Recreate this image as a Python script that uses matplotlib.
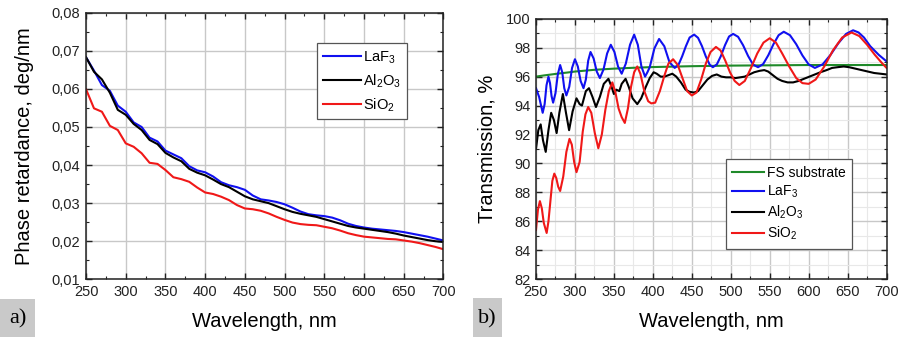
import matplotlib
matplotlib.use("Agg")
import matplotlib.pyplot as plt
from matplotlib.ticker import MultipleLocator, FuncFormatter
from matplotlib.patches import Rectangle

plt.rcParams['font.family'] = ['Liberation Sans', 'DejaVu Sans']
plt.rcParams['mathtext.default'] = 'regular'

# ---------------- Panel a) Phase retardance ----------------
wl_a = [250, 260, 270, 280, 290, 300, 310, 320, 330, 340, 350, 360, 370, 380, 390,
        400, 410, 420, 430, 440, 450, 460, 470, 480, 490, 500, 510, 520, 530, 540,
        550, 560, 570, 580, 590, 600, 610, 620, 630, 640, 650, 660, 670, 680, 690, 700]
ret_laf3 = [0.0683, 0.0648, 0.0610, 0.0595, 0.0556, 0.0540, 0.0512, 0.0500, 0.0472, 0.0462,
            0.0438, 0.0428, 0.0418, 0.0397, 0.0386, 0.0381, 0.0370, 0.0355, 0.0347, 0.0342,
            0.0335, 0.0320, 0.0310, 0.0307, 0.0303, 0.0297, 0.0288, 0.0278, 0.0271, 0.0268,
            0.0266, 0.0262, 0.0255, 0.0246, 0.0240, 0.0236, 0.0233, 0.0231, 0.0229, 0.0227,
            0.0224, 0.0220, 0.0216, 0.0212, 0.0207, 0.0202]
ret_al2o3 = [0.0683, 0.0645, 0.0625, 0.0590, 0.0545, 0.0532, 0.0508, 0.0492, 0.0466, 0.0455,
             0.0432, 0.0420, 0.0410, 0.0390, 0.0380, 0.0373, 0.0362, 0.0350, 0.0342, 0.0330,
             0.0318, 0.0310, 0.0305, 0.0300, 0.0292, 0.0284, 0.0277, 0.0272, 0.0268, 0.0264,
             0.0258, 0.0252, 0.0246, 0.0240, 0.0236, 0.0233, 0.0230, 0.0227, 0.0224, 0.0220,
             0.0215, 0.0211, 0.0207, 0.0203, 0.0200, 0.0198]
ret_sio2 = [0.0599, 0.0549, 0.0540, 0.0503, 0.0492, 0.0457, 0.0448, 0.0431, 0.0406, 0.0403,
            0.0387, 0.0368, 0.0363, 0.0356, 0.0341, 0.0328, 0.0324, 0.0317, 0.0308, 0.0295,
            0.0286, 0.0284, 0.0280, 0.0273, 0.0264, 0.0256, 0.0249, 0.0245, 0.0243, 0.0242,
            0.0238, 0.0234, 0.0228, 0.0221, 0.0216, 0.0212, 0.0210, 0.0208, 0.0206, 0.0205,
            0.0202, 0.0199, 0.0195, 0.0190, 0.0185, 0.0179]

# ---------------- Panel b) Transmission ----------------
wl_fs = [250, 260, 270, 280, 290, 300, 325, 350, 375, 400, 450, 500, 550, 600, 650, 700]
tr_fs = [96.0, 96.08, 96.15, 96.22, 96.28, 96.35, 96.47, 96.55, 96.61, 96.66, 96.72,
         96.76, 96.78, 96.8, 96.8, 96.8]

wl_laf3 = [250, 254, 258.6, 261.1, 263.5, 266, 268, 270, 272, 275, 278, 281, 283.7, 286.3,
           289, 292.7, 296.3, 300, 303.7, 307.3, 311, 314, 317, 320, 324, 328, 332, 336.7,
           341.3, 346, 350.7, 355.3, 360, 365.3, 370.7, 376, 380.7, 385.3, 390, 393, 396,
           402, 408, 414.7, 421.3, 428, 432.8, 437.6, 442.4, 447.2, 453, 458, 463, 468, 473,
           477, 482.2, 487.4, 492.6, 497.8, 503, 509.4, 515.8, 522.2, 528.6, 535, 541.6,
           548.2, 554.8, 561.4, 568, 576, 584, 592, 600, 608, 618, 628, 638, 648, 657, 664,
           671, 679, 690, 700]
tr_laf3 = [95.2, 94.6, 93.5, 94.1, 95.4, 96.0, 95.55, 94.65, 94.2, 94.85, 96.15, 96.8, 96.3,
           95.2, 94.7, 95.3, 96.6, 97.2, 96.7, 95.7, 95.2, 95.8, 97.1, 97.7, 97.25, 96.35,
           95.9, 96.5, 97.6, 98.2, 97.7, 96.7, 96.2, 96.9, 98.2, 98.9, 98.2, 96.7, 96.0, 96.3,
           96.65, 97.95, 98.6, 98.1, 97.0, 96.6, 96.8, 97.4, 98.1, 98.7, 98.9, 98.68, 98.11,
           97.39, 96.82, 96.65, 96.85, 97.43, 98.17, 98.77, 98.95, 98.75, 98.17, 97.43, 96.83,
           96.65, 96.87, 97.48, 98.24, 98.86, 99.1, 98.86, 98.24, 97.46, 96.84, 96.6, 96.85,
           97.5, 98.3, 98.95, 99.2, 99.05, 98.7, 98.1, 97.5, 97.05]

wl_al2o3 = [250, 253, 256, 259, 262.5, 266, 269.5, 273, 276.5, 280, 284.5, 288.5, 292.5, 297,
            302, 306, 309, 314, 318, 322.5, 327, 332, 337, 343, 347, 350, 353, 357, 360, 365,
            369, 374, 380, 385, 391, 396, 401, 405, 410, 415, 420, 425, 430, 436, 442, 447,
            453, 458, 464, 470, 476, 482, 488, 494, 500, 506, 512, 518, 524, 530, 537, 543,
            548, 554, 560, 566, 573, 580, 587, 594, 601, 608, 615, 623, 630, 637, 645, 652,
            660, 668, 676, 684, 692, 700]
tr_al2o3 = [91.0, 92.3, 92.7, 91.6, 90.8, 92.3, 93.5, 93.0, 92.1, 93.5, 94.8, 93.5, 92.3, 93.6,
            94.5, 94.1, 94.0, 95.0, 95.2, 94.6, 93.9, 94.6, 95.5, 95.85, 95.3, 94.8, 95.1, 95.0,
            95.5, 95.85, 95.3, 94.5, 94.1, 94.5, 95.3, 95.9, 96.3, 96.2, 96.0, 96.0, 96.1, 96.2,
            96.0, 95.6, 95.1, 94.95, 94.9, 95.0, 95.4, 95.8, 96.05, 96.15, 96.0, 95.95, 95.95,
            95.9, 95.95, 96.0, 96.15, 96.3, 96.4, 96.45, 96.35, 96.1, 95.85, 95.7, 95.6, 95.6,
            95.7, 95.85, 96.0, 96.15, 96.3, 96.45, 96.6, 96.65, 96.7, 96.65, 96.55, 96.45,
            96.35, 96.25, 96.2, 96.15]

wl_sio2 = [250, 252.5, 255, 257.5, 260, 263.7, 266, 268.5, 271, 273.5, 276, 278.5, 281, 285,
           289, 293, 296, 299, 302, 306, 310, 313.5, 317, 321, 325.5, 330, 334.5, 339, 343.5,
           348, 352, 356, 360, 364, 368, 372, 376, 380, 384, 389, 394, 398, 403, 409, 415,
           420, 426, 432, 438, 444, 450, 456, 462, 468, 474, 481, 487, 493, 499, 505, 511,
           518, 526, 534, 542, 550, 558, 566, 575, 584, 592, 600, 609, 620, 631, 643, 655,
           665, 675, 685, 693, 700]
tr_sio2 = [85.4, 86.8, 87.4, 86.9, 85.9, 85.2, 86.0, 87.4, 88.8, 89.3, 89.0, 88.4, 88.1, 89.1,
           90.8, 91.7, 91.3, 90.1, 89.4, 90.1, 92.2, 93.4, 93.9, 93.5, 92.1, 91.05, 92.0, 93.7,
           95.0, 95.6, 94.9, 93.8, 93.2, 92.8, 93.8, 95.3, 96.3, 96.7, 96.2, 95.0, 94.3, 94.15,
           94.2, 95.0, 96.1, 96.9, 97.2, 96.8, 95.9, 95.0, 94.7, 94.9, 95.8, 96.9, 97.7, 98.05,
           97.8, 97.1, 96.3, 95.7, 95.42, 95.7, 96.6, 97.6, 98.35, 98.65, 98.35, 97.6, 96.7,
           95.9, 95.55, 95.5, 95.8, 96.7, 97.8, 98.7, 99.05, 98.8, 98.2, 97.5, 97.0, 96.6]

x_ticks = [250, 300, 350, 400, 450, 500, 550, 600, 650, 700]

C_BLUE = '#1010f0'
C_BLACK = '#000000'
C_RED = '#f01818'
C_GREEN = '#1f8a2a'
GRID = '#c8c8c8'
GRID_MINOR = '#e8e8e8'

fig = plt.figure(figsize=(8.99, 3.37), dpi=100)
ax1 = fig.add_axes([0.0957, 0.1712, 0.3975, 0.791])
ax2 = fig.add_axes([0.5962, 0.1712, 0.3900, 0.7733])


def style(ax):
    ax.tick_params(which='both', direction='in', top=True, right=True,
                   labelsize=10.5, colors='#222222', pad=4)
    ax.tick_params(which='major', length=4.5, width=1)
    ax.tick_params(which='minor', length=2.5, width=0.8)
    for s in ax.spines.values():
        s.set_linewidth(1.1)
        s.set_color('#222222')
    ax.set_axisbelow(True)


# Panel a
lw = 1.5
ax1.plot(wl_a, ret_laf3, color=C_BLUE, lw=lw, label='LaF$_3$')
ax1.plot(wl_a, ret_al2o3, color=C_BLACK, lw=lw, label='Al$_2$O$_3$')
ax1.plot(wl_a, ret_sio2, color=C_RED, lw=lw, label='SiO$_2$')
ax1.set_xlim(250, 700)
ax1.set_ylim(0.01, 0.08)
ax1.set_xticks(x_ticks)
ax1.xaxis.set_minor_locator(MultipleLocator(25))
ax1.yaxis.set_major_locator(MultipleLocator(0.01))
ax1.yaxis.set_minor_locator(MultipleLocator(0.005))
ax1.yaxis.set_major_formatter(FuncFormatter(lambda v, p: f"{v:.2f}".replace('.', ',')))
ax1.grid(True, which='major', color=GRID, lw=1)
style(ax1)
ax1.set_xlabel('Wavelength, nm', fontsize=14.5, labelpad=9.5)
ax1.set_ylabel('Phase retardance, deg/nm', fontsize=14.5, labelpad=13)
leg1 = ax1.legend(loc='upper left', bbox_to_anchor=(0.6457, 0.885), fontsize=10.5,
                  handlelength=2.6, handletextpad=0.2, borderpad=0.4, labelspacing=0.45,
                  fancybox=False, framealpha=1, edgecolor='#555555', borderaxespad=0)
leg1.get_frame().set_linewidth(0.9)

# Panel b
ax2.plot(wl_fs, tr_fs, color=C_GREEN, lw=lw, label='FS substrate')
ax2.plot(wl_laf3, tr_laf3, color=C_BLUE, lw=lw, label='LaF$_3$')
ax2.plot(wl_al2o3, tr_al2o3, color=C_BLACK, lw=lw, label='Al$_2$O$_3$')
ax2.plot(wl_sio2, tr_sio2, color=C_RED, lw=lw, label='SiO$_2$')
ax2.set_xlim(250, 700)
ax2.set_ylim(82, 100)
ax2.set_xticks(x_ticks)
ax2.xaxis.set_minor_locator(MultipleLocator(25))
ax2.yaxis.set_major_locator(MultipleLocator(2))
ax2.yaxis.set_minor_locator(MultipleLocator(1))
ax2.grid(True, which='minor', color=GRID_MINOR, lw=0.8)
ax2.grid(True, which='major', color=GRID, lw=1)
style(ax2)
ax2.set_xlabel('Wavelength, nm', fontsize=14.5, labelpad=9.5)
ax2.set_ylabel('Transmission, %', fontsize=14.5, labelpad=7)
leg2 = ax2.legend(loc='upper left', bbox_to_anchor=(0.5418, 0.4605), fontsize=10,
                  handlelength=2.3, handletextpad=0.2, borderpad=0.45, labelspacing=0.28,
                  fancybox=False, framealpha=1, edgecolor='#555555', borderaxespad=0)
leg2.get_frame().set_linewidth(0.9)

# Panel tags
W, H = 899.0, 337.0
fig.patches.append(Rectangle((0 / W, 0), 35 / W, 38 / H, transform=fig.transFigure,
                             facecolor='#c9c9c9', edgecolor='none', zorder=0))
fig.text(17.5 / W, 18 / H, 'a)', ha='center', va='center', fontsize=16,
         family=['Liberation Serif', 'DejaVu Serif'])
fig.patches.append(Rectangle((473 / W, 0), 29 / W, 39 / H, transform=fig.transFigure,
                             facecolor='#c9c9c9', edgecolor='none', zorder=0))
fig.text(487.5 / W, 18 / H, 'b)', ha='center', va='center', fontsize=16,
         family=['Liberation Serif', 'DejaVu Serif'])

fig.savefig('out.png', dpi=100)
